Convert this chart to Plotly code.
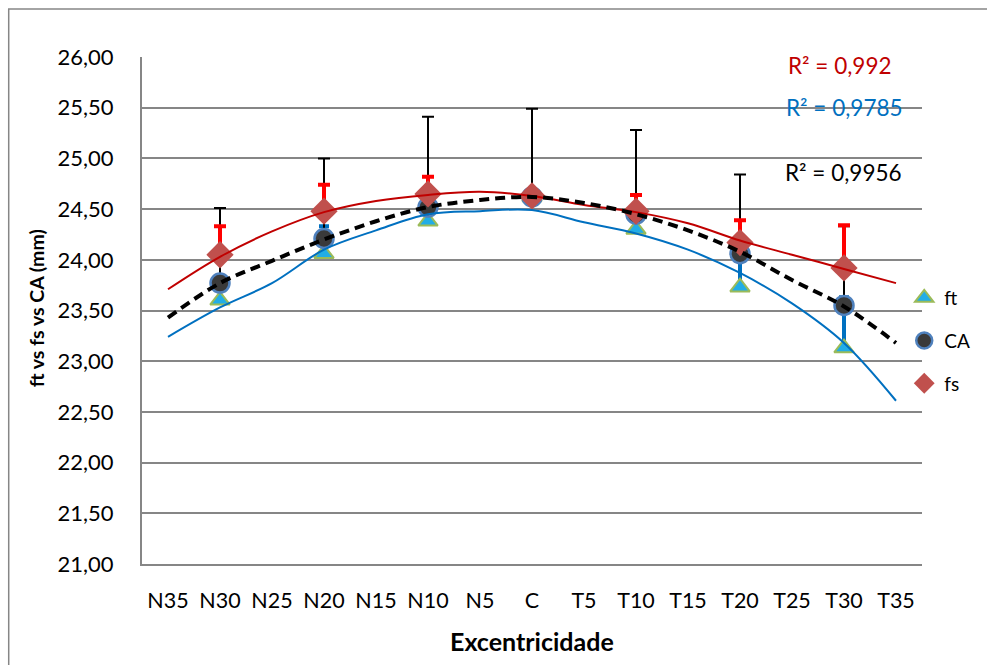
import plotly.graph_objects as go

categories = ["N35", "N30", "N25", "N20", "N15", "N10", "N5", "C",
              "T5", "T10", "T15", "T20", "T25", "T30", "T35"]
point_cats = ["N30", "N20", "N10", "C", "T10", "T20", "T30"]

ft = [23.60, 24.06, 24.38, 24.62, 24.30, 23.73, 23.13]
ft_err = [0.0, 0.27, 0.0, 0.0, 0.0, 0.30, 0.50]
ca = [23.77, 24.21, 24.52, 24.62, 24.45, 24.06, 23.55]
ca_err = [0.74, 0.79, 0.89, 0.87, 0.83, 0.78, 0.78]
fs = [24.05, 24.48, 24.65, 24.63, 24.48, 24.17, 23.92]
fs_err = [0.28, 0.26, 0.17, 0.0, 0.16, 0.22, 0.42]

# trendlines at each category
fs_trend = [23.71, 24.03, 24.28, 24.47, 24.58, 24.64, 24.67, 24.63,
            24.54, 24.47, 24.36, 24.19, 24.05, 23.91, 23.77]
ca_trend = [23.43, 23.77, 23.99, 24.20, 24.38, 24.52, 24.59, 24.62,
            24.56, 24.45, 24.29, 24.08, 23.80, 23.54, 23.18]
ft_trend = [23.24, 23.53, 23.77, 24.10, 24.29, 24.45, 24.48, 24.49,
            24.37, 24.26, 24.10, 23.87, 23.57, 23.18, 22.61]

r2_labels = ["R² = 0,992", "R² = 0,9785", "R² = 0,9956"]
yticks = [21.0, 21.5, 22.0, 22.5, 23.0, 23.5, 24.0, 24.5, 25.0, 25.5, 26.0]
x_title = "Excentricidade"
y_title = "ft vs fs vs CA (mm)"

fig = go.Figure()

fig.add_trace(go.Scatter(
    x=point_cats, y=ft, mode="markers", name="ft", legendgroup="ft",
    marker=dict(symbol="triangle-up", size=17, color="#22ADE6",
                line=dict(color="#9BBB59", width=2)),
    error_y=dict(type="data", array=ft_err, arrayminus=[0]*7, symmetric=False,
                 color="#0070C0", thickness=4, width=5),
))
fig.add_trace(go.Scatter(
    x=point_cats, y=ca, mode="markers", name="CA", legendgroup="CA",
    marker=dict(symbol="circle", size=19, color="#3A3A3A",
                line=dict(color="#4F81BD", width=2.5)),
    error_y=dict(type="data", array=ca_err, arrayminus=[0]*7, symmetric=False,
                 color="#000000", thickness=2, width=6),
))
fig.add_trace(go.Scatter(
    x=point_cats, y=fs, mode="markers", name="fs", legendgroup="fs",
    marker=dict(symbol="diamond", size=21, color="#C0504D",
                line=dict(color="#C0504D", width=0)),
    error_y=dict(type="data", array=fs_err, arrayminus=[0]*7, symmetric=False,
                 color="#FF0000", thickness=4, width=6),
))

fig.add_trace(go.Scatter(
    x=categories, y=fs_trend, mode="lines", line=dict(color="#C00000", width=2, shape="spline"),
    showlegend=False, hoverinfo="skip"))
fig.add_trace(go.Scatter(
    x=categories, y=ft_trend, mode="lines", line=dict(color="#0070C0", width=2, shape="spline"),
    showlegend=False, hoverinfo="skip"))
fig.add_trace(go.Scatter(
    x=categories, y=ca_trend, mode="lines",
    line=dict(color="#000000", width=4, dash="10px,6px", shape="spline"),
    showlegend=False, hoverinfo="skip"))

L, R, T, B = 142, 55, 57, 101
W, H = 987, 665
pw, ph = W - L - R, H - T - B

def px(x):
    return (x - L) / pw

def py(y):
    return (H - B - y) / ph

annots = []
for txt, col, xc, yc in zip(r2_labels, ["#C00000", "#0070C0", "#000000"],
                            [849, 853, 852], [66, 108, 172]):
    annots.append(dict(text=txt, x=px(xc), y=py(yc), xref="paper", yref="paper",
                       showarrow=False, xanchor="center", yanchor="middle",
                       font=dict(family="Lato", size=22.5, color=col)))
annots.append(dict(text="<b>" + x_title + "</b>", x=px(537), y=py(641),
                   xref="paper", yref="paper", showarrow=False,
                   xanchor="center", yanchor="middle",
                   font=dict(family="Lato", size=25, color="#000000")))
annots.append(dict(text="<b>" + y_title + "</b>", x=px(35), y=py(308),
                   xref="paper", yref="paper", showarrow=False, textangle=-90,
                   xanchor="center", yanchor="middle",
                   font=dict(family="Lato", size=19.5, color="#000000")))

fig.update_layout(
    width=W, height=H,
    margin=dict(l=L, r=R, t=T, b=B),
    paper_bgcolor="white", plot_bgcolor="white",
    separators=",.",
    font=dict(family="Lato", color="#000000"),
    showlegend=True,
    legend=dict(x=px(914), y=py(279), xanchor="left", yanchor="top",
                font=dict(family="Lato", size=19), tracegroupgap=15,
                bgcolor="rgba(0,0,0,0)"),
    xaxis=dict(type="category", categoryorder="array", categoryarray=categories,
               range=[-0.5, 14.5], showgrid=False, showline=True,
               linecolor="#868686", linewidth=2,
               ticks="outside", ticklen=16, tickcolor="rgba(0,0,0,0)",
               tickfont=dict(family="Lato", size=21.5)),
    yaxis=dict(range=[21, 26], tickvals=yticks, tickformat=".2f",
               showgrid=True, gridcolor="#868686", gridwidth=1.5,
               showline=True, linecolor="#868686", linewidth=2,
               ticks="outside", ticklen=22, tickcolor="rgba(0,0,0,0)",
               tickfont=dict(family="Lato", size=22),
               zeroline=False),
    annotations=annots,
    shapes=[dict(type="rect", xref="paper", yref="paper",
                 x0=px(7), x1=px(1000), y0=py(680), y1=py(9),
                 line=dict(color="#868686", width=1.5))],
)

fig.write_html("out.html")
